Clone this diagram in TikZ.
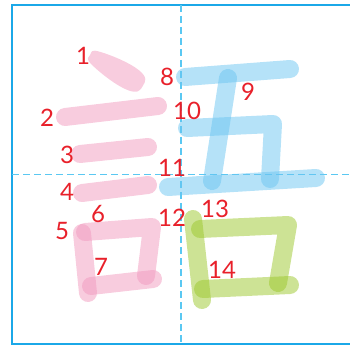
\documentclass[tikz,border=0pt]{standalone}
\usepackage{fontspec}
\setmainfont{Lato}
\usepackage{xcolor}
\usepackage{tikz}
\usetikzlibrary{positioning}
\definecolor{framecol}{HTML}{1BA8E8}
\definecolor{guidecol}{HTML}{5AC8F2}
\definecolor{numred}{HTML}{E8202A}
\definecolor{inkpink}{HTML}{F199BE}
\definecolor{inkblue}{HTML}{6BC5F1}
\definecolor{inkgreen}{HTML}{9CC72C}
\tikzset{
    brush/.style={line width=18pt,line cap=round,line join=round,opacity=0.5},
    pinkbrush/.style={brush,draw=inkpink},
    bluebrush/.style={brush,draw=inkblue},
    greenbrush/.style={brush,draw=inkgreen},
    guide/.style={guidecol,line width=1.6pt,dash pattern=on 7pt off 4pt},
    num/.style={text=numred,font=\fontsize{24}{24}\selectfont,inner sep=0pt}
}

\begin{document}
\begin{tikzpicture}[x=1pt,y=-1pt]
    \useasboundingbox (0,0) rectangle (350,347);

    % frame and guides
    \draw[framecol,line width=2.6pt] (350,5) -- (12,5) -- (12,344) -- (350,344);
    \draw[guide] (181,5) -- (181,344);
    \draw[guide] (12,174.5) -- (350,174.5);

    % strokes
    \fill[inkpink,opacity=0.5] plot[smooth cycle,tension=0.8] coordinates
        {(90.1,55.0) (93.0,65.9) (127.2,89.9) (142.9,85.8) (138.8,70.1) (101.0,52.1)};
    \draw[pinkbrush] (65,117) -- (158,106);
    \draw[pinkbrush] (80,154) -- (148,147);
    \draw[pinkbrush] (82,193) -- (148,185);
    \draw[pinkbrush] (82,233) -- (88,293);
    \draw[pinkbrush] (85,232) -- (152,227) -- (146,276);
    \draw[pinkbrush] (91,286) -- (153,279);

    \draw[bluebrush] (185,77) -- (290,69);
    \draw[bluebrush] (228,78) -- (212,181);
    \draw[bluebrush] (187,128) -- (273,124) -- (270,179);
    \draw[bluebrush] (168,187) -- (316,178);

    \draw[greenbrush] (193,219) -- (202,300);
    \draw[greenbrush] (200,229) -- (288,225) -- (278,283);
    \draw[greenbrush] (203,289) -- (290,285);

    % stroke numbers
    \node[num] (n1) at (83,56) {1};
    \node[num] (n2) at (47,118) {2};
    \node[num] (n3) at (67,155) {3};
    \node[num] (n4) at (67,192) {4};
    \node[num] (n5) at (62,231) {5};
    \node[num] (n6) at (98,214) {6};
    \node[num] (n7) at (101,267) {7};
    \node[num] (n8) at (167,77) {8};
    \node[num] (n9) at (248,92) {9};
    \node[num] (n10) at (187,111) {10};
    \node[num] (n11) at (172,168) {11};
    \node[num] (n12) at (172,218) {12};
    \node[num] (n13) at (215,209) {13};
    \node[num] (n14) at (222,270) {14};
\end{tikzpicture}
\end{document}
